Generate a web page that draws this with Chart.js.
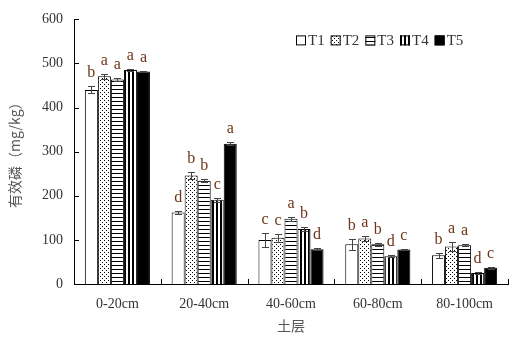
<!DOCTYPE html>
<html>
<head>
<meta charset="utf-8">
<script src="https://cdn.jsdelivr.net/npm/chart.js@4.4.0/dist/chart.umd.min.js"></script>
<style>
  html, body { margin: 0; padding: 0; background: #fff; }
  #c { display: block; }
</style>
</head>
<body>
<canvas id="c" width="524" height="339"></canvas>
<script>
// Soil layers and treatments
const layers = ['0-20cm', '20-40cm', '40-60cm', '60-80cm', '80-100cm'];
const treatments = ['T1', 'T2', 'T3', 'T4', 'T5'];

// Available phosphorus (mg/kg), mean per layer
const t1 = [440, 162, 100, 90, 65];
const t2 = [471, 246, 105, 103, 85];
const t3 = [464, 234, 148, 90, 88];
const t4 = [485, 191, 125, 63, 25];
const t5 = [482, 318, 79, 78, 37];

// Standard errors
const t1Err = [8, 3, 15, 12, 5];
const t2Err = [6, 8, 9, 5, 10];
const t3Err = [4, 3, 5, 4, 2];
const t4Err = [2, 4, 4, 2, 2];
const t5Err = [2, 3, 2, 2, 2];

// Significance letters
const t1Sig = ['b', 'd', 'c', 'b', 'b'];
const t2Sig = ['a', 'b', 'c', 'a', 'a'];
const t3Sig = ['a', 'b', 'a', 'b', 'a'];
const t4Sig = ['a', 'c', 'b', 'd', 'd'];
const t5Sig = ['a', 'a', 'd', 'c', 'c'];

const yTicks = [0, 100, 200, 300, 400, 500, 600];

const SERIF = "'Liberation Serif', 'Times New Roman', serif";
const CJK = "'Noto Sans CJK SC', sans-serif";

// Fill patterns
function makePattern(w, h, draw) {
  const c = document.createElement('canvas');
  c.width = w; c.height = h;
  const g = c.getContext('2d');
  g.fillStyle = '#fff';
  g.fillRect(0, 0, w, h);
  g.fillStyle = '#000';
  draw(g);
  return document.createElement('canvas').getContext('2d').createPattern(c, 'repeat');
}
const fills = [
  '#ffffff',
  makePattern(4, 4, g => { g.fillRect(0, 0, 1, 1); g.fillRect(2, 2, 1, 1); }),
  makePattern(1, 4, g => { g.fillRect(0, 1, 1, 1); }),
  makePattern(4, 1, g => { g.fillRect(0, 0, 2, 1); }),
  '#000000'
];

const values = [t1, t2, t3, t4, t5];
const errors = [t1Err, t2Err, t3Err, t4Err, t5Err];
const letters = [t1Sig, t2Sig, t3Sig, t4Sig, t5Sig];

const datasets = treatments.map((name, i) => ({
  label: name,
  data: values[i],
  backgroundColor: fills[i],
  borderColor: '#000',
  borderWidth: 1,
  borderSkipped: 'bottom',
  categoryPercentage: 0.75,
  barPercentage: 1.0
}));

// Error bars and significance letters above each bar
const barAnnotations = {
  id: 'barAnnotations',
  afterDatasetsDraw(chart) {
    const { ctx, scales: { y } } = chart;
    ctx.save();
    chart.data.datasets.forEach((ds, di) => {
      const meta = chart.getDatasetMeta(di);
      meta.data.forEach((bar, i) => {
        const v = ds.data[i], e = errors[di][i];
        const x = Math.round(bar.x) + 0.5;
        const yTop = Math.round(y.getPixelForValue(v + e)) + 0.5;
        const yBot = Math.round(y.getPixelForValue(v - e)) + 0.5;
        ctx.strokeStyle = '#444';
        ctx.lineWidth = 1;
        ctx.beginPath();
        ctx.moveTo(x, yTop); ctx.lineTo(x, yBot);
        ctx.moveTo(x - 3.5, yTop); ctx.lineTo(x + 3.5, yTop);
        ctx.moveTo(x - 3.5, yBot); ctx.lineTo(x + 3.5, yBot);
        ctx.stroke();
        ctx.fillStyle = '#6e3418';
        ctx.font = '16px ' + SERIF;
        ctx.textAlign = 'center';
        ctx.textBaseline = 'alphabetic';
        ctx.fillText(letters[di][i], bar.x, yTop - 10);
      });
    });
    ctx.restore();
  }
};

// Inward tick marks on both axes
const inwardTicks = {
  id: 'inwardTicks',
  afterDraw(chart) {
    const { ctx, chartArea: a, scales: { x, y } } = chart;
    ctx.save();
    ctx.strokeStyle = '#000';
    ctx.lineWidth = 1;
    ctx.beginPath();
    y.ticks.forEach((t, i) => {
      const py = Math.round(y.getPixelForTick(i)) + 0.5;
      ctx.moveTo(a.left, py); ctx.lineTo(a.left + 5, py);
    });
    for (let i = 0; i <= layers.length; i++) {
      const px = Math.round(x.getPixelForValue(i - 0.5)) + 0.5;
      ctx.moveTo(px, a.bottom); ctx.lineTo(px, a.bottom - 5);
    }
    ctx.stroke();
    ctx.restore();
  }
};

// Legend inside the plot, upper right
const insideLegend = {
  id: 'insideLegend',
  afterDraw(chart) {
    const { ctx, chartArea: a } = chart;
    ctx.save();
    ctx.font = '15px ' + SERIF;
    ctx.textBaseline = 'middle';
    ctx.textAlign = 'left';
    let x = a.left + 222;
    const cy = a.top + 21;
    chart.data.datasets.forEach(ds => {
      ctx.fillStyle = ds.backgroundColor;
      ctx.fillRect(x, cy - 5, 10, 10);
      ctx.strokeStyle = '#000';
      ctx.lineWidth = 1;
      ctx.strokeRect(x + 0.5, cy - 4.5, 9, 9);
      ctx.fillStyle = '#333';
      ctx.fillText(ds.label, x + 12, cy + 1);
      x += 12 + ctx.measureText(ds.label).width + 6;
    });
    ctx.restore();
  }
};

new Chart(document.getElementById('c'), {
  type: 'bar',
  data: { labels: layers, datasets },
  options: {
    responsive: false,
    animation: false,
    layout: { padding: { top: 17, right: 16, left: 0, bottom: 0 } },
    plugins: { legend: { display: false }, tooltip: { enabled: false } },
    scales: {
      x: {
        grid: { display: false, drawTicks: false },
        border: { display: true, color: '#000', width: 1 },
        ticks: { color: '#333', font: { family: SERIF, size: 14 }, padding: 12 },
        title: {
          display: true, text: '土层', color: '#555',
          font: { family: CJK, size: 14 }, padding: { top: 0, bottom: 5 }
        },
        afterFit(s) { s.height = 55; }
      },
      y: {
        min: 0, max: 600,
        afterBuildTicks(s) { s.ticks = yTicks.map(v => ({ value: v })); },
        grid: { display: false, drawTicks: false },
        border: { display: true, color: '#000', width: 1 },
        ticks: { color: '#333', font: { family: SERIF, size: 14 }, padding: 11 },
        title: {
          display: true, text: '有效磷（mg/kg）', color: '#555',
          font: { family: CJK, size: 14 }, padding: { top: 6, bottom: 0 }
        },
        afterFit(s) { s.width = 74; }
      }
    }
  },
  plugins: [barAnnotations, inwardTicks, insideLegend]
});
</script>
</body>
</html>
